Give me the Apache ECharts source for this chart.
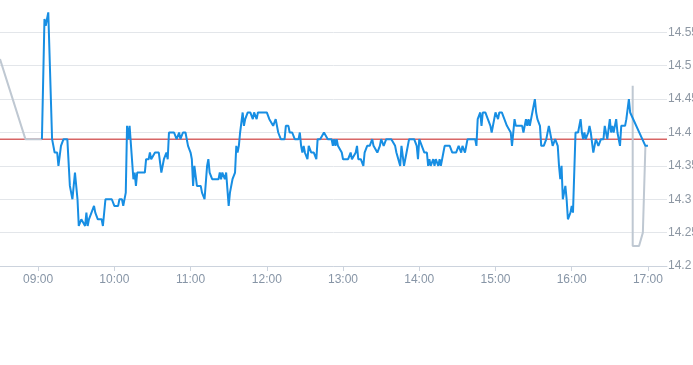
<!DOCTYPE html>
<html>
<head>
<meta charset="utf-8">
<style>html,body{margin:0;padding:0;background:#fff;}#c{width:693px;height:365px;}</style>
<script src="https://cdn.jsdelivr.net/npm/echarts@6/dist/echarts.min.js"></script>
</head>
<body>
<div id="c"></div>
<script>
// Pre-market (grey)
const preTimes = ["08:30","08:50","09:03"];
const preValues = [14.51,14.39,14.39];

// Main session (blue)
const mainTimes = [
"09:03","09:05","09:06","09:07","09:08","09:11","09:13","09:15","09:16","09:18","09:20","09:23","09:25","09:27","09:29","09:31","09:32","09:34","09:35","09:37","09:38","09:39","09:40","09:42","09:43","09:44","09:45","09:47","09:50","09:51","09:53","09:55","09:58",
"10:00","10:03","10:04","10:06","10:07","10:09","10:10","10:11","10:12","10:13","10:15","10:16","10:17","10:18","10:20","10:24","10:25","10:27","10:28","10:29","10:32","10:35","10:37","10:39","10:41","10:42","10:43","10:47","10:49","10:51","10:52","10:54","10:56","10:58",
"11:00","11:01","11:02","11:03","11:04","11:05","11:08","11:09","11:11","11:13","11:14","11:15","11:17","11:22","11:23","11:24","11:25","11:27","11:28","11:30","11:31","11:33","11:35","11:36","11:37","11:38","11:39","11:40","11:41","11:42","11:43","11:45","11:47","11:49","11:50","11:52","11:53",
"12:00","12:02","12:03","12:05","12:07","12:09","12:11","12:14","12:15","12:17","12:18","12:20","12:22","12:25","12:26","12:27","12:28","12:29","12:30","12:32","12:33","12:35","12:37","12:39","12:40","12:42","12:45","12:46","12:48","12:51","12:52","12:53","12:54","12:55","12:56","12:59",
"13:00","13:04","13:06","13:07","13:10","13:11","13:12","13:14","13:16","13:17","13:19","13:21","13:23","13:24","13:27","13:29","13:30","13:32","13:34","13:38","13:41","13:42","13:45","13:46","13:48","13:50","13:52","13:56","13:58","13:59",
"14:00","14:02","14:04","14:06","14:07","14:08","14:09","14:11","14:12","14:13","14:15","14:16","14:17","14:19","14:20","14:24","14:26","14:29","14:31","14:33","14:34","14:36","14:38","14:44","14:45","14:46","14:48","14:49","14:50","14:52","14:54","14:56","14:57","14:59",
"15:00","15:02","15:03","15:05","15:07","15:08","15:09","15:10","15:12","15:13","15:15","15:16","15:21","15:22","15:24","15:25","15:26","15:27","15:29","15:31","15:32","15:33","15:35","15:36","15:37","15:38","15:40","15:42","15:44","15:45","15:46","15:47","15:49","15:50","15:51","15:52","15:53","15:55","15:56","15:57","15:59",
"16:00","16:01","16:03","16:05","16:07","16:08","16:09","16:10","16:11","16:13","16:14","16:15","16:17","16:19","16:21","16:22","16:23","16:25","16:26","16:28","16:29","16:30","16:31","16:32","16:33","16:35","16:36","16:38","16:39","16:42","16:43","16:45","16:46","16:47","16:58","17:00"
];
const mainValues = [
14.39,14.57,14.56,14.57,14.58,14.39,14.37,14.37,14.35,14.38,14.39,14.39,14.32,14.30,14.34,14.30,14.26,14.27,14.27,14.26,14.28,14.26,14.27,14.28,14.28,14.29,14.28,14.27,14.27,14.26,14.30,14.30,14.30,
14.29,14.29,14.30,14.30,14.29,14.31,14.41,14.39,14.41,14.41,14.33,14.34,14.32,14.34,14.34,14.34,14.36,14.36,14.37,14.36,14.37,14.37,14.34,14.36,14.37,14.36,14.40,14.40,14.39,14.40,14.39,14.40,14.40,14.38,
14.37,14.36,14.32,14.35,14.35,14.32,14.32,14.31,14.30,14.35,14.36,14.34,14.33,14.33,14.34,14.33,14.34,14.33,14.34,14.29,14.31,14.33,14.34,14.38,14.37,14.38,14.40,14.40,14.43,14.41,14.42,14.43,14.43,14.42,14.43,14.42,14.43,
14.43,14.42,14.42,14.41,14.42,14.40,14.39,14.39,14.41,14.41,14.40,14.40,14.39,14.39,14.40,14.38,14.37,14.38,14.37,14.36,14.38,14.37,14.37,14.36,14.39,14.39,14.40,14.40,14.39,14.39,14.38,14.39,14.38,14.39,14.38,14.37,
14.36,14.36,14.37,14.36,14.37,14.38,14.36,14.36,14.35,14.37,14.38,14.38,14.39,14.38,14.37,14.38,14.39,14.38,14.39,14.39,14.38,14.37,14.35,14.38,14.35,14.37,14.39,14.39,14.38,14.36,
14.39,14.38,14.37,14.37,14.35,14.36,14.35,14.36,14.35,14.36,14.35,14.36,14.35,14.37,14.38,14.38,14.37,14.37,14.38,14.37,14.38,14.37,14.39,14.39,14.38,14.42,14.43,14.41,14.43,14.43,14.42,14.41,14.40,14.42,
14.43,14.42,14.43,14.43,14.42,14.42,14.41,14.41,14.40,14.38,14.42,14.41,14.41,14.40,14.42,14.41,14.42,14.41,14.43,14.45,14.43,14.42,14.41,14.38,14.38,14.38,14.39,14.41,14.39,14.38,14.38,14.39,14.38,14.35,14.33,14.35,14.30,14.32,14.30,14.27,14.28,
14.29,14.28,14.40,14.40,14.42,14.40,14.39,14.40,14.39,14.40,14.41,14.40,14.37,14.39,14.38,14.38,14.39,14.39,14.41,14.39,14.39,14.42,14.40,14.41,14.40,14.42,14.40,14.38,14.41,14.41,14.42,14.45,14.43,14.43,14.38,14.38
];

// After-hours (grey)
const postTimes = ["16:48","16:48","16:53","16:56","16:58"];
const postValues = [14.47,14.23,14.23,14.25,14.38];

const prevClose = 14.39;
const axisStart = "08:30", axisEnd = "17:15";
const yMin = 14.2, yMax = 14.6, yStep = 0.05;

function ts(hm){const p=hm.split(':');return Date.UTC(2024,0,2,+p[0],+p[1]);}
function pair(t,v){return t.map((x,i)=>[ts(x),v[i]]);}
function pad(n){return (n<10?'0':'')+n;}

const chart = echarts.init(document.getElementById('c'));
chart.setOption({
  useUTC: true,
  animation: false,
  grid: {left: 0, right: 26, top: -1, bottom: 99, containLabel: false, outerBoundsMode: 'none'},
  xAxis: {
    type: 'time',
    min: ts(axisStart), max: ts(axisEnd),
    minInterval: 3600000, maxInterval: 3600000,
    axisLine: {show: true, lineStyle: {color: '#ccd3dd', width: 1}},
    axisTick: {show: true, length: 5, lineStyle: {color: '#ccd3dd'}},
    splitLine: {show: false},
    axisLabel: {
      color: '#8795a6', fontSize: 12, margin: 8, fontFamily: 'Liberation Sans, Arial, sans-serif',
      formatter: function(v){const d=new Date(v);return pad(d.getUTCHours())+':'+pad(d.getUTCMinutes());}
    }
  },
  yAxis: {
    type: 'value', position: 'right',
    min: yMin, max: yMax, interval: yStep,
    axisLine: {show: false}, axisTick: {show: false},
    splitLine: {show: true, lineStyle: {color: '#e3e6ea', width: 1}},
    axisLabel: {
      color: '#8d97a3', fontSize: 12, margin: 1, fontFamily: 'Liberation Sans, Arial, sans-serif',
      formatter: function(v){ if (v > 14.575) return ''; return String(+v.toFixed(2)); }
    }
  },
  series: [
    {type: 'line', data: [[ts(axisStart), prevClose], [ts(axisEnd), prevClose]],
     showSymbol: false, symbol: 'none', silent: true,
     lineStyle: {color: '#c41a1a', width: 1}, z: 1},
    {type: 'line', data: pair(preTimes, preValues), showSymbol: false, symbol: 'none',
     lineStyle: {color: '#bfc8d2', width: 2}, z: 2},
    {type: 'line', data: pair(postTimes, postValues), showSymbol: false, symbol: 'none',
     lineStyle: {color: '#bfc8d2', width: 2}, z: 2},
    {type: 'line', data: pair(mainTimes, mainValues), showSymbol: false, symbol: 'none',
     lineStyle: {color: '#178ee3', width: 2}, z: 3}
  ]
});
</script>
</body>
</html>
